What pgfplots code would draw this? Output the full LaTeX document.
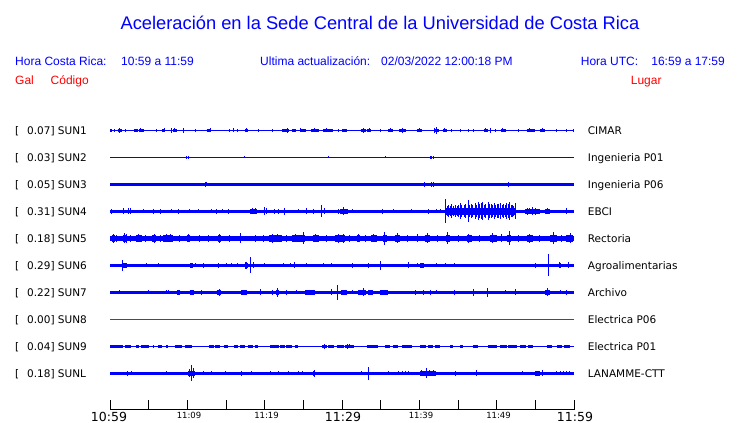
\documentclass[border=0pt]{standalone}
\usepackage{pgfplots}
\pgfplotsset{compat=1.18}
\usepackage{fontspec}
\setmainfont{Liberation Sans}
\newfontfamily\dejavu{DejaVu Sans}
\tikzset{lab/.style={inner sep=0pt, anchor=base west}}
\pgfplotsset{
  spk/.style={blue, line width=#1, mark=none, error bars/.cd, y dir=both, y explicit, error mark=none, error bar style={line width=1pt, solid, blue}},
  seg/.style={blue, line width=#1, mark=none, unbounded coords=jump},
}
\newcommand\hdr{\fontsize{12}{14}\selectfont}
\newcommand\lbl{\dejavu\fontsize{10.5}{12}\selectfont}
\begin{document}
\begin{tikzpicture}
\useasboundingbox (0,0) rectangle (740pt,-423pt);
% title and header
\node[inner sep=0pt, anchor=base, text=blue] at (380pt,-29.8pt) {\fontsize{18.3}{20}\selectfont Aceleración en la Sede Central de la Universidad de Costa Rica};
\node[lab, text=blue] at (15pt,-65pt) {\hdr Hora Costa Rica:};
\node[lab, text=blue] at (121pt,-65pt) {\hdr 10:59 a 11:59};
\node[lab, text=blue] at (260pt,-65pt) {\hdr Ultima actualización:};
\node[lab, text=blue] at (381pt,-65pt) {\hdr 02/03/2022 12:00:18 PM};
\node[lab, text=blue] at (580.7pt,-65pt) {\hdr Hora UTC:};
\node[lab, text=blue] at (651.2pt,-65pt) {\hdr 16:59 a 17:59};
\node[lab, text=red] at (15pt,-84.3pt) {\hdr Gal};
\node[lab, text=red] at (50.5pt,-84.3pt) {\hdr Código};
\node[lab, text=red] at (630.7pt,-84.3pt) {\hdr Lugar};
% left labels
\node[lab] at (15pt,-134.4pt) {\lbl [};   \node[lab] at (27pt,-134.4pt) {\lbl 0.07] SUN1};
\node[lab] at (15pt,-161.4pt) {\lbl [};   \node[lab] at (27pt,-161.4pt) {\lbl 0.03] SUN2};
\node[lab] at (15pt,-188.4pt) {\lbl [};   \node[lab] at (27pt,-188.4pt) {\lbl 0.05] SUN3};
\node[lab] at (15pt,-215.4pt) {\lbl [};   \node[lab] at (27pt,-215.4pt) {\lbl 0.31] SUN4};
\node[lab] at (15pt,-242.4pt) {\lbl [};   \node[lab] at (27pt,-242.4pt) {\lbl 0.18] SUN5};
\node[lab] at (15pt,-269.4pt) {\lbl [};   \node[lab] at (27pt,-269.4pt) {\lbl 0.29] SUN6};
\node[lab] at (15pt,-296.4pt) {\lbl [};   \node[lab] at (27pt,-296.4pt) {\lbl 0.22] SUN7};
\node[lab] at (15pt,-323.4pt) {\lbl [};   \node[lab] at (27pt,-323.4pt) {\lbl 0.00] SUN8};
\node[lab] at (15pt,-350.4pt) {\lbl [};   \node[lab] at (27pt,-350.4pt) {\lbl 0.04] SUN9};
\node[lab] at (15pt,-377.4pt) {\lbl [};   \node[lab] at (27pt,-377.4pt) {\lbl 0.18] SUNL};
% right labels
\node[lab] at (587.7pt,-134.4pt) {\lbl CIMAR};
\node[lab] at (587.7pt,-161.4pt) {\lbl Ingenieria P01};
\node[lab] at (587.7pt,-188.4pt) {\lbl Ingenieria P06};
\node[lab] at (587.7pt,-215.4pt) {\lbl EBCI};
\node[lab] at (587.7pt,-242.4pt) {\lbl Rectoria};
\node[lab] at (587.7pt,-269.4pt) {\lbl Agroalimentarias};
\node[lab] at (587.7pt,-296.4pt) {\lbl Archivo};
\node[lab] at (587.7pt,-323.4pt) {\lbl Electrica P06};
\node[lab] at (587.7pt,-350.4pt) {\lbl Electrica P01};
\node[lab] at (587.7pt,-377.4pt) {\lbl LANAMME-CTT};
% time axis
\draw[line width=1pt] (110pt,-409pt) -- (574.5pt,-409pt);
\foreach \k in {0,...,12} \draw[line width=1pt] ({110pt+\k*38.667pt},-409pt) -- ++(0pt,9pt);
\node[inner sep=0pt, anchor=base] at (109pt,-421pt) {\dejavu\fontsize{12.5}{14}\selectfont 10:59};
\node[inner sep=0pt, anchor=base] at (343pt,-421pt) {\dejavu\fontsize{12.5}{14}\selectfont 11:29};
\node[inner sep=0pt, anchor=base] at (575pt,-421pt) {\dejavu\fontsize{12.5}{14}\selectfont 11:59};
\node[inner sep=0pt, anchor=base] at (189pt,-418.8pt) {\dejavu\fontsize{8.5}{10}\selectfont 11:09};
\node[inner sep=0pt, anchor=base] at (266.5pt,-418.8pt) {\dejavu\fontsize{8.5}{10}\selectfont 11:19};
\node[inner sep=0pt, anchor=base] at (421pt,-418.8pt) {\dejavu\fontsize{8.5}{10}\selectfont 11:39};
\node[inner sep=0pt, anchor=base] at (498.5pt,-418.8pt) {\dejavu\fontsize{8.5}{10}\selectfont 11:49};

\begin{axis}[at={(110pt,-115pt)}, anchor=north west, scale only axis,
  width=464pt, height=295pt, xmin=0, xmax=60, ymin=115, ymax=410,
  y dir=reverse, hide axis, clip=false]
% ---- SUN1 (CIMAR)
\addplot[seg=3pt] coordinates {(0.0,130.3) (0.3,130.3) (0.3,nan) (1.0,130.3) (1.5,130.3) (1.5,nan) (3.1,130.3) (3.6,130.3) (3.6,nan) (3.8,130.3) (4.4,130.3) (4.4,nan) (6.7,130.3) (7.1,130.3) (7.1,nan) (8.2,130.3) (8.6,130.3) (8.6,nan) (12.5,130.3) (13.1,130.3) (13.1,nan) (17.5,130.3) (17.8,130.3) (17.8,nan) (22.3,130.3) (23.1,130.3) (23.1,nan) (23.5,130.3) (24.0,130.3) (24.0,nan) (24.7,130.3) (25.4,130.3) (25.4,nan) (26.0,130.3) (27.0,130.3) (27.0,nan) (27.6,130.3) (28.8,130.3) (28.8,nan) (30.0,130.3) (30.6,130.3) (30.6,nan) (32.4,130.3) (33.1,130.3) (33.1,nan) (33.2,130.3) (33.8,130.3) (33.8,nan) (36.0,130.3) (36.6,130.3) (36.6,nan) (37.4,130.3) (38.3,130.3) (38.3,nan) (39.7,130.3) (40.3,130.3) (40.3,nan) (41.9,130.3) (42.5,130.3) (42.5,nan) (43.1,130.3) (43.6,130.3) (43.6,nan) (48.3,130.3) (48.9,130.3) (48.9,nan) (50.5,130.3) (51.2,130.3) (51.2,nan) (53.9,130.3) (55.0,130.3) (55.0,nan) (55.6,130.3) (56.3,130.3)};
\addplot[spk=1pt] coordinates {(0,130.3)+-(0,0) (0.6,130.3)+-(0,1.8) (1.2,130.3)+-(0,2.2) (2.0,130.3)+-(0,1.8) (4.0,130.3)+-(0,2) (6.0,130.3)+-(0,1.8) (7.0,130.3)+-(0,2) (8.0,130.3)+-(0,2.7) (8.4,130.3)+-(0,2) (9.5,130.3)+-(0,2.3) (11.0,130.3)+-(0,1.5) (13.0,130.3)+-(0,2) (15.5,130.3)+-(0,1.8) (16.0,130.3)+-(0,2) (16.5,130.3)+-(0,1.5) (17.6,130.3)+-(0,2) (19.2,130.3)+-(0,1.8) (21.0,130.3)+-(0,1.5) (22.9,130.3)+-(0,2.3) (24.6,130.3)+-(0,2) (25.1,130.3)+-(0,1.8) (26.5,130.3)+-(0,2) (28.0,130.3)+-(0,2) (29.5,130.3)+-(0,1.5) (30.2,130.3)+-(0,1.8) (32.8,130.3)+-(0,2.7) (33.5,130.3)+-(0,2) (35.0,130.3)+-(0,1.8) (36.3,130.3)+-(0,2) (37.8,130.3)+-(0,2.3) (40.0,130.3)+-(0,2) (42.0,130.3)+-(0,2.3) (42.2,130.3)+-(0,3.3) (43.3,130.3)+-(0,2) (44.2,130.3)+-(0,1.8) (45.3,130.3)+-(0,1.8) (46.4,130.3)+-(0,1.8) (47.0,130.3)+-(0,1.8) (48.6,130.3)+-(0,2) (49.2,130.3)+-(0,2.3) (49.8,130.3)+-(0,1.8) (50.8,130.3)+-(0,2) (52.8,130.3)+-(0,1.8) (54.3,130.3)+-(0,2) (55.9,130.3)+-(0,2) (57.7,130.3)+-(0,1.8) (59.0,130.3)+-(0,1.8) (59.9,130.3)+-(0,1.8) (60,130.3)+-(0,0)};
% ---- SUN2 (Ingenieria P01)
\addplot[spk=1pt] coordinates {(0,157.3)+-(0,0) (9.95,157.3)+-(0,1.5) (10.1,157.3)+-(0,1.5) (17.4,157.3)+-(0,1) (28.2,157.3)+-(0,1) (35.6,157.3)+-(0,1) (41.4,157.3)+-(0,1.2) (41.6,157.3)+-(0,1.5) (41.8,157.3)+-(0,1.5) (60,157.3)+-(0,0)};
% ---- SUN3 (Ingenieria P06)
\addplot[spk=3.5pt] coordinates {(0,184.3)+-(0,0) (12.3,184.3)+-(0,2.3) (12.5,184.3)+-(0,2) (40.7,184.3)+-(0,2.3) (41.6,184.3)+-(0,2.5) (41.8,184.3)+-(0,2.5) (51.5,184.3)+-(0,2.2) (60,184.3)+-(0,0)};
% ---- SUN4 (EBCI)
\addplot[seg=5pt] coordinates {(18.1,211.3) (19.0,211.3) (19.0,nan) (29.7,211.3) (30.8,211.3) (30.8,nan) (53.7,211.3) (55.6,211.3) (55.6,nan) (56.3,211.3) (56.9,211.3)};
\addplot[seg=7pt] coordinates {(43.4,211.3) (52.4,211.3)};
\addplot[spk=3pt] coordinates {(0,211.3)+-(0,0) (0.2,211.3)+-(0,2.5) (1.7,211.3)+-(0,3) (2.4,211.3)+-(0,3) (2.6,211.3)+-(0,3) (4.3,211.3)+-(0,2) (5.6,211.3)+-(0,2.5) (6.5,211.3)+-(0,2.5) (8.0,211.3)+-(0,2) (8.8,211.3)+-(0,2.5) (10.3,211.3)+-(0,2) (11.4,211.3)+-(0,2) (13.1,211.3)+-(0,2) (13.8,211.3)+-(0,2.5) (14.5,211.3)+-(0,2) (15.3,211.3)+-(0,2.5) (18.4,211.3)+-(0,3) (18.8,211.3)+-(0,3) (20.0,211.3)+-(0,4) (20.3,211.3)+-(0,3) (21.3,211.3)+-(0,2.5) (21.8,211.3)+-(0,2.5) (22.6,211.3)+-(0,3.5) (24.4,211.3)+-(0,2) (25.4,211.3)+-(0,3) (26.3,211.3)+-(0,2.5) (27.3,211.3)+-(0,6) (27.8,211.3)+-(0,3) (29.5,211.3)+-(0,2.5) (30.2,211.3)+-(0,4) (31.4,211.3)+-(0,2) (32.3,211.3)+-(0,1.8) (35.3,211.3)+-(0,2.5) (36.6,211.3)+-(0,2) (39.0,211.3)+-(0,2) (41.2,211.3)+-(0,2.5) (42.2,211.3)+-(0,2) (42.7,211.3)+-(0,2) (43.4,211.3)+-(0,12) (43.6,211.3)+-(0,5) (43.8,211.3)+-(0,6) (44.0,211.3)+-(0,5) (44.2,211.3)+-(0,7) (44.4,211.3)+-(0,5) (44.7,211.3)+-(0,6) (44.9,211.3)+-(0,5) (45.1,211.3)+-(0,6) (45.3,211.3)+-(0,8) (45.5,211.3)+-(0,6) (45.8,211.3)+-(0,6) (46.0,211.3)+-(0,7) (46.3,211.3)+-(0,11) (46.5,211.3)+-(0,6) (46.7,211.3)+-(0,7) (46.9,211.3)+-(0,6) (47.2,211.3)+-(0,8) (47.4,211.3)+-(0,6) (47.6,211.3)+-(0,9) (47.8,211.3)+-(0,7) (48.0,211.3)+-(0,8) (48.2,211.3)+-(0,9) (48.4,211.3)+-(0,6) (48.6,211.3)+-(0,7) (48.9,211.3)+-(0,9) (49.1,211.3)+-(0,7) (49.3,211.3)+-(0,7) (49.5,211.3)+-(0,6) (49.7,211.3)+-(0,8) (49.9,211.3)+-(0,6) (50.1,211.3)+-(0,7) (50.3,211.3)+-(0,7) (50.5,211.3)+-(0,8) (50.7,211.3)+-(0,6) (50.9,211.3)+-(0,7) (51.1,211.3)+-(0,6) (51.3,211.3)+-(0,8) (51.5,211.3)+-(0,7) (51.7,211.3)+-(0,9) (51.9,211.3)+-(0,6) (52.0,211.3)+-(0,6) (52.2,211.3)+-(0,5) (52.4,211.3)+-(0,8) (54.0,211.3)+-(0,3.5) (54.3,211.3)+-(0,3) (54.6,211.3)+-(0,4) (55.0,211.3)+-(0,3.5) (56.6,211.3)+-(0,3) (59.0,211.3)+-(0,3) (60,211.3)+-(0,0)};
% ---- SUN5 (Rectoria)
\addplot[seg=7pt] coordinates {(0.2,238.3) (0.65,238.3) (0.65,nan) (1.7,238.3) (2.2,238.3) (2.2,nan) (3.4,238.3) (4.1,238.3) (4.1,nan) (5.4,238.3) (6.0,238.3) (6.0,nan) (6.9,238.3) (8.2,238.3) (8.2,nan) (9.9,238.3) (10.3,238.3) (10.3,nan) (14.0,238.3) (14.4,238.3) (14.4,nan) (20.5,238.3) (22.2,238.3) (22.2,nan) (23.5,238.3) (25.2,238.3) (25.2,nan) (26.3,238.3) (27.0,238.3) (27.0,nan) (29.1,238.3) (30.4,238.3) (30.4,nan) (31.9,238.3) (32.3,238.3) (32.3,nan) (33.8,238.3) (34.5,238.3) (34.5,nan) (35.3,238.3) (35.8,238.3) (35.8,nan) (36.9,238.3) (37.5,238.3) (37.5,nan) (40.7,238.3) (41.4,238.3) (41.4,nan) (43.5,238.3) (44.0,238.3) (44.0,nan) (46.1,238.3) (46.8,238.3) (46.8,nan) (49.1,238.3) (50.0,238.3) (50.0,nan) (51.3,238.3) (51.9,238.3) (51.9,nan) (53.9,238.3) (54.7,238.3) (54.7,nan) (56.9,238.3) (57.8,238.3) (57.8,nan) (59.0,238.3) (59.9,238.3)};
\addplot[spk=5pt] coordinates {(0,238.3)+-(0,0) (0.4,238.3)+-(0,4.5) (0.9,238.3)+-(0,3.5) (1.9,238.3)+-(0,5) (2.1,238.3)+-(0,4.5) (2.7,238.3)+-(0,3.5) (3.7,238.3)+-(0,4) (4.6,238.3)+-(0,3.5) (5.7,238.3)+-(0,4.5) (6.5,238.3)+-(0,3.5) (7.3,238.3)+-(0,4) (7.8,238.3)+-(0,4) (9.0,238.3)+-(0,3.5) (10.1,238.3)+-(0,4) (11.6,238.3)+-(0,3.5) (12.8,238.3)+-(0,3.5) (14.2,238.3)+-(0,4.5) (15.5,238.3)+-(0,3.5) (16.9,238.3)+-(0,5) (18.8,238.3)+-(0,3.5) (19.8,238.3)+-(0,3.5) (21.0,238.3)+-(0,4.5) (21.7,238.3)+-(0,4) (22.8,238.3)+-(0,3.5) (24.0,238.3)+-(0,4) (25.0,238.3)+-(0,6) (26.6,238.3)+-(0,4) (28.0,238.3)+-(0,3.5) (29.6,238.3)+-(0,4.5) (30.2,238.3)+-(0,4.5) (31.0,238.3)+-(0,3.5) (32.1,238.3)+-(0,4) (33.0,238.3)+-(0,3.5) (34.1,238.3)+-(0,4) (35.5,238.3)+-(0,6.5) (37.2,238.3)+-(0,5) (38.5,238.3)+-(0,3.5) (39.8,238.3)+-(0,4) (41.0,238.3)+-(0,5) (42.3,238.3)+-(0,3.5) (43.7,238.3)+-(0,6) (45.0,238.3)+-(0,3.5) (46.4,238.3)+-(0,4.5) (47.8,238.3)+-(0,3.5) (49.5,238.3)+-(0,5) (50.6,238.3)+-(0,4) (51.6,238.3)+-(0,7) (52.8,238.3)+-(0,3.5) (54.3,238.3)+-(0,4.5) (55.6,238.3)+-(0,3.5) (57.3,238.3)+-(0,6) (58.4,238.3)+-(0,3.5) (59.5,238.3)+-(0,5) (60,238.3)+-(0,0)};
% ---- SUN6 (Agroalimentarias)
\addplot[seg=5pt] coordinates {(1.5,265.3) (2.2,265.3) (2.2,nan) (10.4,265.3) (10.7,265.3) (10.7,nan) (17.4,265.3) (17.8,265.3) (17.8,nan) (40.1,265.3) (40.6,265.3) (40.6,nan) (58.0,265.3) (58.3,265.3)};
\addplot[spk=3pt] coordinates {(0,265.3)+-(0,0) (1.6,265.3)+-(0,5.3) (1.9,265.3)+-(0,2) (2.1,265.3)+-(0,2) (4.7,265.3)+-(0,2) (6.3,265.3)+-(0,2) (10.5,265.3)+-(0,2.5) (11.0,265.3)+-(0,2) (12.1,265.3)+-(0,2.5) (14.0,265.3)+-(0,2.5) (15.1,265.3)+-(0,2) (15.7,265.3)+-(0,2) (16.5,265.3)+-(0,2) (17.5,265.3)+-(0,3.5) (17.7,265.3)+-(0,3.5) (18.2,265.3)+-(0,8) (18.6,265.3)+-(0,3) (20.0,265.3)+-(0,2) (22.4,265.3)+-(0,2) (23.3,265.3)+-(0,2) (23.9,265.3)+-(0,3) (25.4,265.3)+-(0,2) (27.6,265.3)+-(0,2) (28.7,265.3)+-(0,2) (31.4,265.3)+-(0,2.5) (33.4,265.3)+-(0,2.5) (35.0,265.3)+-(0,4.5) (36.9,265.3)+-(0,1.5) (38.6,265.3)+-(0,3) (39.7,265.3)+-(0,2) (40.4,265.3)+-(0,2.5) (42.2,265.3)+-(0,2) (43.4,265.3)+-(0,2) (44.6,265.3)+-(0,2) (55.0,265.3)+-(0,2.5) (56.7,265.3)+-(0,11) (58.1,265.3)+-(0,3) (59.3,265.3)+-(0,3) (60,265.3)+-(0,0)};
% ---- SUN7 (Archivo)
\addplot[seg=5pt] coordinates {(8.7,292.3) (9.1,292.3) (9.1,nan) (10.3,292.3) (10.9,292.3) (10.9,nan) (13.8,292.3) (14.4,292.3) (14.4,nan) (17.0,292.3) (17.7,292.3) (17.7,nan) (20.9,292.3) (21.1,292.3) (21.1,nan) (21.5,292.3) (21.8,292.3) (21.8,nan) (25.2,292.3) (26.5,292.3) (26.5,nan) (29.9,292.3) (30.6,292.3) (30.6,nan) (32.1,292.3) (33.1,292.3) (33.1,nan) (33.4,292.3) (34.0,292.3) (34.0,nan) (34.9,292.3) (36.0,292.3) (36.0,nan) (56.3,292.3) (56.9,292.3)};
\addplot[spk=3pt] coordinates {(0,292.3)+-(0,0) (1.2,292.3)+-(0,2) (3.1,292.3)+-(0,1.5) (5.0,292.3)+-(0,2) (7.3,292.3)+-(0,2) (7.5,292.3)+-(0,2) (8.9,292.3)+-(0,2.5) (10.5,292.3)+-(0,2.5) (11.8,292.3)+-(0,2.5) (13.1,292.3)+-(0,1.5) (14.1,292.3)+-(0,3.5) (16.0,292.3)+-(0,1.5) (17.3,292.3)+-(0,2.5) (18.3,292.3)+-(0,1.5) (19.5,292.3)+-(0,3) (21.0,292.3)+-(0,2.5) (21.6,292.3)+-(0,4.5) (22.8,292.3)+-(0,2.5) (24.1,292.3)+-(0,2) (25.8,292.3)+-(0,2.5) (28.7,292.3)+-(0,3) (29.4,292.3)+-(0,7.7) (30.1,292.3)+-(0,2.5) (31.3,292.3)+-(0,2) (32.8,292.3)+-(0,4) (33.7,292.3)+-(0,2.5) (35.4,292.3)+-(0,2.5) (39.5,292.3)+-(0,2.5) (40.5,292.3)+-(0,2.5) (41.4,292.3)+-(0,2.5) (42.2,292.3)+-(0,2) (43.5,292.3)+-(0,1.5) (44.6,292.3)+-(0,2.5) (47.0,292.3)+-(0,3.5) (48.8,292.3)+-(0,4.5) (51.1,292.3)+-(0,2) (52.4,292.3)+-(0,3) (55.2,292.3)+-(0,1.5) (56.6,292.3)+-(0,4) (58.2,292.3)+-(0,2) (59.0,292.3)+-(0,2.5) (60,292.3)+-(0,0)};
% ---- SUN8 (Electrica P06)
\addplot[red, line width=1pt, mark=none] coordinates {(0,319.3) (60,319.3)};
% ---- SUN9 (Electrica P01)
\addplot[seg=3pt] coordinates {(0.0,346.3) (1.7,346.3) (1.7,nan) (1.9,346.3) (2.7,346.3) (2.7,nan) (3.4,346.3) (3.7,346.3) (3.7,nan) (4.0,346.3) (5.0,346.3) (5.0,nan) (5.5,346.3) (5.7,346.3) (5.7,nan) (6.25,346.3) (6.7,346.3) (6.7,nan) (7.3,346.3) (7.5,346.3) (7.5,nan) (8.4,346.3) (9.3,346.3) (9.3,nan) (9.7,346.3) (10.6,346.3) (10.6,nan) (12.8,346.3) (13.4,346.3) (13.4,nan) (13.6,346.3) (14.2,346.3) (14.2,nan) (14.7,346.3) (15.3,346.3) (15.3,nan) (16.0,346.3) (16.6,346.3) (16.6,nan) (16.8,346.3) (17.5,346.3) (17.5,nan) (17.9,346.3) (18.5,346.3) (18.5,nan) (18.7,346.3) (19.2,346.3) (19.2,nan) (20.7,346.3) (21.8,346.3) (21.8,nan) (22.0,346.3) (22.6,346.3) (22.6,nan) (22.8,346.3) (23.5,346.3) (23.5,nan) (23.9,346.3) (24.3,346.3) (24.3,nan) (27.4,346.3) (28.0,346.3) (28.0,nan) (28.2,346.3) (29.0,346.3) (29.0,nan) (29.3,346.3) (30.2,346.3) (30.2,nan) (30.4,346.3) (31.5,346.3) (31.5,nan) (33.2,346.3) (34.7,346.3) (34.7,nan) (35.6,346.3) (36.2,346.3) (36.2,nan) (36.6,346.3) (37.3,346.3) (37.3,nan) (37.7,346.3) (39.0,346.3) (39.0,nan) (40.1,346.3) (40.9,346.3) (40.9,nan) (41.1,346.3) (41.8,346.3) (41.8,nan) (42.0,346.3) (42.7,346.3) (42.7,nan) (44.0,346.3) (44.4,346.3) (44.4,nan) (45.3,346.3) (45.7,346.3) (45.7,nan) (47.0,346.3) (47.6,346.3) (47.6,nan) (48.9,346.3) (50.0,346.3) (50.0,nan) (50.4,346.3) (51.3,346.3) (51.3,nan) (51.5,346.3) (52.6,346.3) (52.6,nan) (53.0,346.3) (53.8,346.3) (53.8,nan) (54.0,346.3) (54.7,346.3) (54.7,nan) (56.5,346.3) (57.1,346.3) (57.1,nan) (57.8,346.3) (58.5,346.3) (58.5,nan) (58.7,346.3) (59.5,346.3)};
\addplot[spk=1pt] coordinates {(0,346.3)+-(0,0) (27.7,346.3)+-(0,2.5) (30.7,346.3)+-(0,2.5) (31.0,346.3)+-(0,2) (60,346.3)+-(0,0)};
% ---- SUNL (LANAMME-CTT)
\addplot[seg=5.5pt] coordinates {(10.1,373.3) (11.0,373.3) (11.0,nan) (26.3,373.3) (26.5,373.3) (26.5,nan) (40.1,373.3) (42.2,373.3) (42.2,nan) (55.0,373.3) (55.6,373.3)};
\addplot[spk=3.5pt] coordinates {(0,373.3)+-(0,0) (2.2,373.3)+-(0,2.5) (2.8,373.3)+-(0,2) (7.3,373.3)+-(0,2) (10.3,373.3)+-(0,4) (10.6,373.3)+-(0,8) (10.8,373.3)+-(0,5) (12.1,373.3)+-(0,2) (13.1,373.3)+-(0,2) (14.9,373.3)+-(0,2) (17.0,373.3)+-(0,2.5) (18.3,373.3)+-(0,2) (20.7,373.3)+-(0,2) (21.8,373.3)+-(0,2) (23.1,373.3)+-(0,2) (24.4,373.3)+-(0,2) (24.9,373.3)+-(0,2) (26.4,373.3)+-(0,3.5) (32.5,373.3)+-(0,2) (33.4,373.3)+-(0,6.3) (36.0,373.3)+-(0,2) (37.3,373.3)+-(0,2) (37.8,373.3)+-(0,2) (38.2,373.3)+-(0,2) (38.6,373.3)+-(0,2) (40.3,373.3)+-(0,3) (40.9,373.3)+-(0,5) (41.3,373.3)+-(0,3) (41.8,373.3)+-(0,3) (44.7,373.3)+-(0,2.5) (47.4,373.3)+-(0,3) (53.4,373.3)+-(0,2) (55.2,373.3)+-(0,2.5) (55.9,373.3)+-(0,3) (57.8,373.3)+-(0,2) (58.2,373.3)+-(0,2) (58.6,373.3)+-(0,2) (59.0,373.3)+-(0,2) (59.4,373.3)+-(0,2) (60,373.3)+-(0,0)};
\end{axis}
\end{tikzpicture}
\end{document}
